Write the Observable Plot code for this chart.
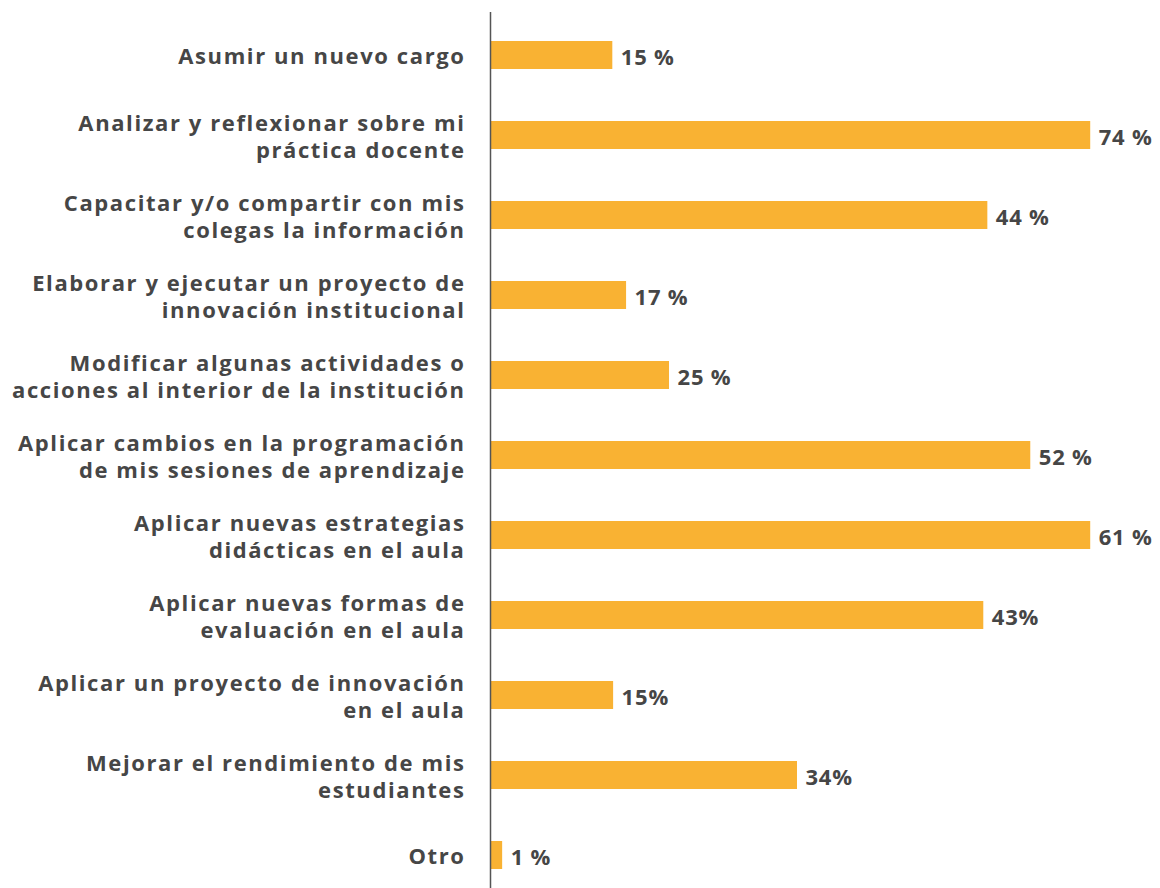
<!DOCTYPE html>
<html><head><meta charset="utf-8">
<script src="https://cdn.jsdelivr.net/npm/d3@7"></script>
<script src="https://cdn.jsdelivr.net/npm/@observablehq/plot@0.6"></script>
<style>body{margin:0;background:#fff}</style>
</head><body><div id="chart"></div>
<script>
const categories = [
  "Asumir un nuevo cargo",
  "Analizar y reflexionar sobre mi\npráctica docente",
  "Capacitar y/o compartir con mis\ncolegas la información",
  "Elaborar y ejecutar un proyecto de\ninnovación institucional",
  "Modificar algunas actividades o\nacciones al interior de la institución",
  "Aplicar cambios en la programación\nde mis sesiones de aprendizaje",
  "Aplicar nuevas estrategias\ndidácticas en el aula",
  "Aplicar nuevas formas de\nevaluación en el aula",
  "Aplicar un proyecto de innovación\nen el aula",
  "Mejorar el rendimiento de mis\nestudiantes",
  "Otro"
];
// printed value labels
const valueLabels = ["15 %", "74 %", "44 %", "17 %", "25 %", "52 %", "61 %", "43%", "15%", "34%", "1 %"];
// bar lengths as drawn in the source (not proportional to the printed labels)
const barLengths = [15.1, 74.1, 61.4, 16.8, 22.1, 66.7, 74.1, 60.9, 15.2, 37.9, 1.5];

const data = categories.map((c, i) => ({category: c, length: barLengths[i], label: valueLabels[i]}));

const chart = Plot.plot({
  width: 1160, height: 888,
  marginLeft: 490, marginRight: 22, marginTop: 12, marginBottom: 0,
  x: {domain: [0, 80], axis: null},
  y: {domain: categories, axis: null, paddingInner: 0.65, paddingOuter: 0.3, align: 0.6},
  style: {fontFamily: "'Open Sans', sans-serif", background: "#fff"},
  marks: [
    Plot.barX(data, {x: "length", y: "category", fill: "#F9B233"}),
    Plot.ruleX([0], {stroke: "#555", strokeWidth: 1.5}),
    Plot.text(data, {x: 0, y: "category", text: "category", textAnchor: "end", dx: -25,
      fontSize: 22, fontWeight: 700, fill: "#464646", lineHeight: 1.23}),
    Plot.text(data, {x: "length", y: "category", text: "label", textAnchor: "start", dx: 8, dy: 2,
      fontSize: 22, fontWeight: 700, fill: "#464646"})
  ]
});
const textGroups = chart.querySelectorAll('g[aria-label="text"]');
textGroups[0].style.letterSpacing = "1.6px";
textGroups[1].style.letterSpacing = "0.8px";
document.getElementById("chart").appendChild(chart);
</script>
</body></html>
